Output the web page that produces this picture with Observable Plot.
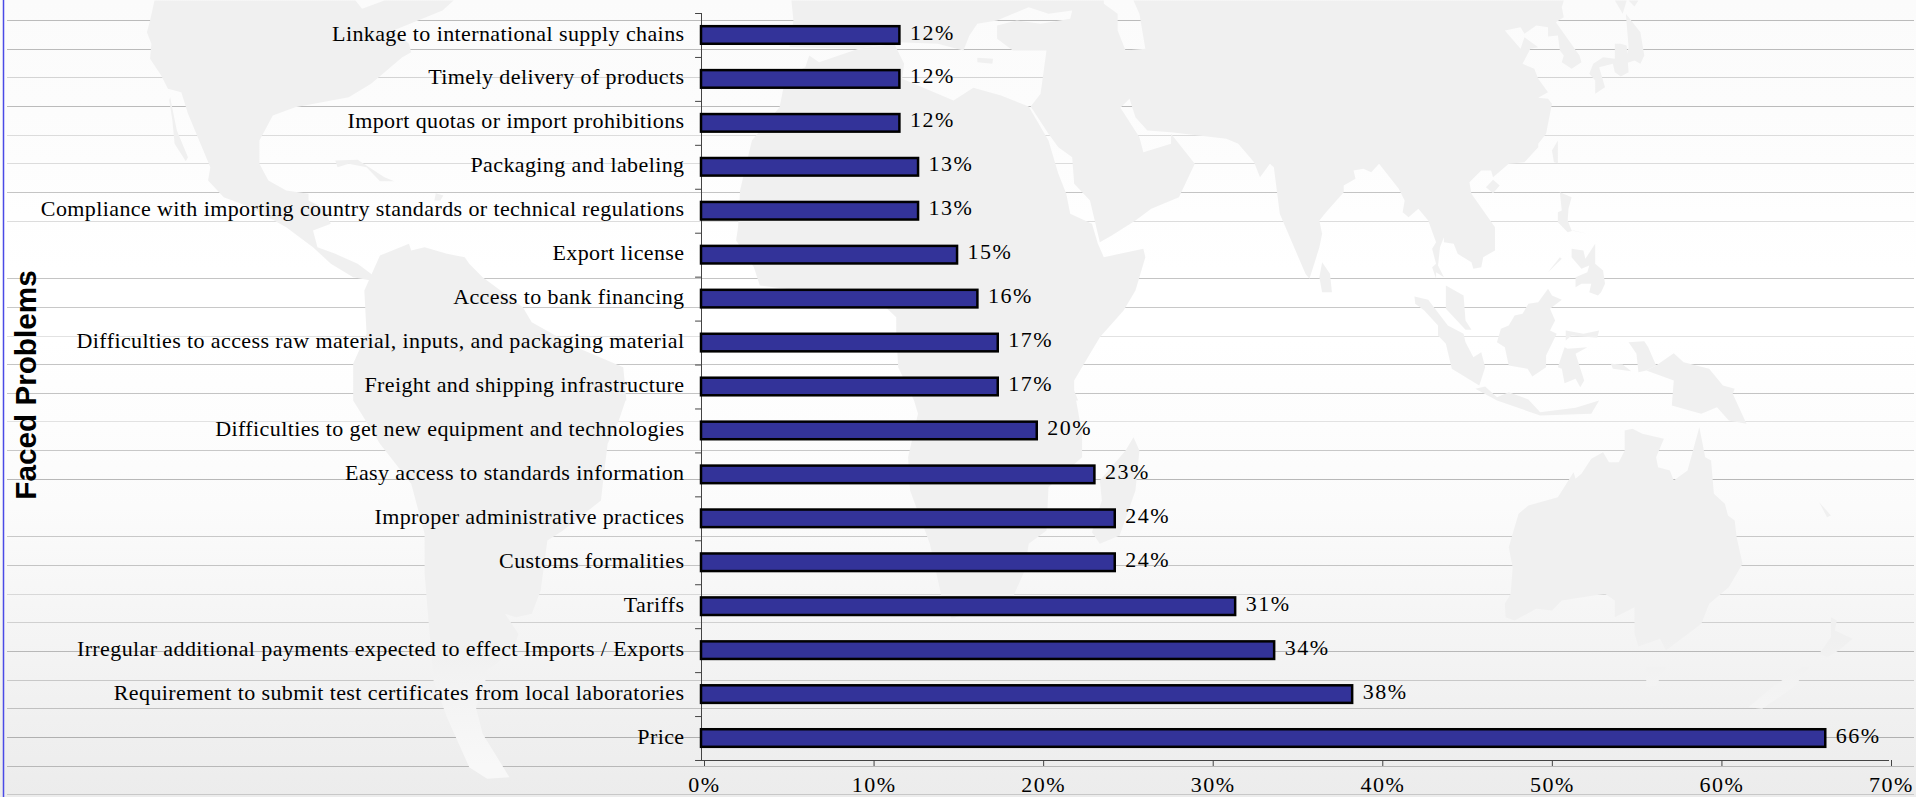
<!DOCTYPE html>
<html>
<head>
<meta charset="utf-8">
<script src="https://cdn.jsdelivr.net/npm/d3@7"></script>
<script src="https://cdn.jsdelivr.net/npm/@observablehq/plot@0.6"></script>
<style>
  html, body { margin: 0; padding: 0; background: #fff; overflow: hidden; }
  #stage { position: relative; width: 1916px; height: 797px; overflow: hidden;
    background: linear-gradient(#fbfbfb 0px, #fcfcfc 110px, #ffffff 270px, #ffffff 340px, #fbfbfb 507px, #ececec 797px); }
  #stage svg { position: absolute; left: 0; top: 0; background: transparent; max-width: none; }
  #stage g[aria-label="y-axis tick label"] text { letter-spacing: 0.4px; }
  #stage g[aria-label="x-axis tick label"] text { letter-spacing: 1.5px; }
  #stage g[aria-label="text"]:not([font-weight]) text { letter-spacing: 1.5px; }
</style>
</head>
<body>
<div id="stage"></div>
<script>
// ---- chart data (top to bottom) ----
const problems = [
  "Linkage to international supply chains",
  "Timely delivery of products",
  "Import quotas or import prohibitions",
  "Packaging and labeling",
  "Compliance with importing country standards or technical regulations",
  "Export license",
  "Access to bank financing",
  "Difficulties to access raw material, inputs, and packaging material",
  "Freight and shipping infrastructure",
  "Difficulties to get new equipment and technologies",
  "Easy access to standards information",
  "Improper administrative practices",
  "Customs formalities",
  "Tariffs",
  "Irregular additional payments expected to effect Imports / Exports",
  "Requirement to submit test certificates from local laboratories",
  "Price"
];
const shares = [11.7, 11.7, 11.7, 12.8, 12.8, 15.1, 16.3, 17.5, 17.5, 19.8, 23.2, 24.4, 24.4, 31.5, 33.8, 38.4, 66.3];
const shareLabels = ["12%","12%","12%","13%","13%","15%","16%","17%","17%","20%","23%","24%","24%","31%","34%","38%","66%"];
const xTicks = [0, 10, 20, 30, 40, 50, 60, 70];
const axisTitle = "Faced Problems";

// ---- backdrop: ruled lines and a traced world silhouette ----
const ruleRows = [20,49,77,106,135,163,192,221,278,307,336,364,393,421,450,479,536,565,594,622,651,680,708,737,766,794];
const ruleShades = ["#bbb","#bbb","#d4d4d4","#bbb","#dcdcdc","#dcdcdc","#c4c4c4","#dcdcdc","#c4c4c4","#c8c8c8","#e2e2e2","#c4c4c4","#c4c4c4","#e2e2e2","#c8c8c8","#b8b8b8","#c8c8c8","#c4c4c4","#d8d8d8","#d0d0d0","#b8b8b8","#c8c8c8","#c0c0c0","#b0b0b0","#b8b8b8","#c8c8c8"];

const northAmerica = [345,0,335,60,328,95,338,130,335,175,360,225,375,265,405,275,420,340,445,420,470,500,465,540,500,590,560,620,640,680,700,740,740,790,790,830,830,840,835,825,800,790,750,760,710,740,700,690,740,670,720,620,690,600,690,580,640,570,600,540,580,490,580,420,610,345,660,320,780,290,830,250,900,170,920,155,915,130,880,90,990,30,1015,0,860,0,810,25,795,0];
const baja = [380,290,395,390,420,470,415,482,390,430,385,360,378,300];
const cuba = [750,480,800,478,860,530,882,542,850,542,820,500,780,490,755,500];
const hispaniola = [975,578,992,585,985,600,972,600];
const southAmericaNorth = [850,765,915,730,920,750,950,740,1000,760,1040,770,1050,790,1080,830,1170,920,1190,965,1290,1040,1395,1100,1402,1200];
const southAmericaSouth = [1400,0,1385,60,1360,130,1350,240,1345,300,1260,390,1225,420,1210,570,1190,640,1155,650,1130,640,1160,700,1150,750,1090,810,1085,850,1065,920,1080,1000,1140,1130,1090,1135,1050,1100,1020,1010,1000,950,970,840,960,680,950,520,950,400,920,250,850,130,790,0];
const southAmericaWest = [790,1200,790,1090,820,1000,815,870];
const africaNorth = [275,165,300,185,400,145,490,130,515,190,510,235,640,300,690,262,760,285,830,318,880,420,905,520,925,580,935,640,990,670,1005,730,1020,770,1120,745,1125,770,1100,870,1070,930,1010,1010,970,1090,945,1140,945,1170,955,1200];
const africaSouth = [950,0,965,100,965,170,880,260,875,390,830,430,820,510,790,590,635,655,610,590,580,430,530,270,525,170,550,40,540,0];
const africaWest = [540,1200,500,1100,495,1000,495,950,450,900,150,855,135,800,90,720,95,680,100,570,130,420,200,320,215,230,265,200];
const madagascar = [1095,110,1110,150,1100,270,1060,405,1010,430,990,395,1015,300,1010,240,1075,150];
const eurasiaWest = [230,0,235,60,225,140,400,145,500,125,600,130,665,150,680,105,700,70,750,60,790,40,830,20,880,40,940,30,935,55,860,70,800,60,750,75,750,115,790,150,875,150,860,280,835,318,880,400,905,440,940,470,945,550,985,600,1010,725,1040,705,1100,660,1140,625,1210,590,1250,490,1210,430,1190,400,1190,430,1120,455,1110,410,1062,322,1085,295,1100,350,1130,390,1190,395,1330,415,1360,430,1400,485,1415,530,1440,490,1450,500,1465,640,1530,820,1540,835];
const eurasiaEast = [35,790,48,740,55,700,48,660,65,635,110,575,110,555,140,535,135,510,160,505,180,515,200,490,250,565,265,600,260,635,275,650,300,625,325,660,345,725,335,745,345,790,335,800,345,835,345,815,365,830,350,795,355,740,365,710,365,725,390,730,400,760,435,785,440,805,460,800,465,770,495,750,495,680,435,580,430,545,460,510,485,510,490,530,530,490,570,485,605,440,605,430,625,400,640,310,630,295,605,292,630,275,605,235,595,205,565,190,585,145,605,140,570,110,560,145,520,90,560,80,570,100,600,75,630,80,630,108,655,105,660,150,670,165,665,185,690,205,715,185,710,165,650,65,670,50,665,20,670,0];
const caspianEdge = [1095,0,1110,40,1125,145,1075,150,1055,90,1055,40,1020,10,1020,0];
const crete = [700,172,740,175,738,190,700,185];
const sriLanka = [55,785,75,820,80,875,55,875,48,830];
const hainan = [490,538,507,555,490,578,472,560];
const taiwan = [655,420,655,488,645,485,640,450];
const honshu = [800,130,815,130,830,135,835,215,815,228,800,215,795,190,760,200,775,260,750,280,750,240,735,220,745,190,770,170,800,175];
const hokkaido = [828,40,865,95,875,165,865,190,850,180,825,190,835,140];
const kurilA = [800,0,820,40,830,0];
const kurilB = [835,0,850,18,860,0];
const luzon = [660,575,690,590,682,625,680,660,690,690,730,700,695,690,680,695,655,665,655,635,665,630];
const mindanao = [690,745,720,750,725,775,750,730,750,790,770,810,775,850,765,875,757,885,735,875,740,850,715,850,700,860,700,830,730,815,735,795,715,805,690,770];
const palawan = [660,770,665,775,630,815];
const sumatra = [290,888,325,898,375,975,415,1000,420,1025,440,1070,460,1055,470,1100,455,1155,385,1105,370,1030,350,1005,350,975,315,930,292,910];
const malaya = [370,855,415,885,420,960,435,988,420,988,370,925];
const borneo = [630,865,640,885,665,898,635,925,648,960,635,990,652,1000,625,1065,625,1100,590,1128,578,1105,530,1095,520,1040,500,1025,510,985,530,975,545,945,565,940,580,910,605,905];
const celebesA = [675,990,720,1000,760,990,755,1012,690,1005,675,1020];
const celebesB = [680,1045,730,1040,700,1060,722,1140,712,1160,700,1135,672,1148,665,1105,655,1100,672,1040];
const moluccas = [790,1090,820,1092,842,1112,795,1105];
const java = [445,1165,470,1158,500,1190,530,1175,580,1197,610,1235,700,1222,760,1200,740,1240,610,1245,500,1200];
const guineaEast = [950,1058,975,1085,1040,1105,1075,1155,1105,1165,1100,1180,1135,1270,1090,1260,1060,1220,1020,1240,990,1230,945,1215,950,1140,880,1110,905,1095];
const guineaWest = [835,1025,875,1022,885,1040,905,1095,880,1110,860,1115,855,1060];
const australia = [825,90,845,85,870,100,925,115,905,170,910,200,940,210,950,240,985,210,1015,80,1030,170,1045,180,1052,280,1080,310,1088,345,1105,360,1110,410,1125,490,1090,560,1040,610,1020,670,930,750,915,715,860,738,850,700,850,620,800,650,800,600,775,580,665,600,640,630,600,625,545,660,522,650,520,610,535,580,540,500,530,440,540,400,555,340,580,315,655,290,695,215,700,235,715,220,740,175,770,155,785,185,810,185,825,150];
const tasmania = [880,800,930,800,905,855,880,860];
const newZealandNorth = [1350,650,1365,660,1360,690,1405,715,1370,750,1340,770,1320,760,1350,710];
const newZealandSouth = [1275,800,1295,800,1255,860,1175,925,1140,920,1200,860];
const newCaledonia = [1320,305,1350,345,1340,350];

const crops = {
  nw: {x0: 0, y0: 0, k: 2.24}, sw: {x0: 0, y0: 400, k: 2.24},
  nc: {x0: 700, y0: 0, k: 2.529}, sc: {x0: 700, y0: 400, k: 2.529},
  ne: {x0: 1300, y0: 0, k: 2.545}, se: {x0: 1300, y0: 400, k: 2.545}
};
const place = (crop, flat) => {
  const c = crops[crop], out = [];
  for (let i = 0; i < flat.length; i += 2) out.push([c.x0 + flat[i] / c.k, c.y0 + flat[i + 1] / 3]);
  return out;
};
const landParts = [
  [["nw", northAmerica]], [["nw", baja]], [["nw", cuba]], [["nw", hispaniola]],
  [["nw", southAmericaNorth], ["sw", southAmericaSouth], ["nw", southAmericaWest]],
  [["nc", africaNorth], ["sc", africaSouth], ["nc", africaWest]], [["sc", madagascar]],
  [["nc", eurasiaWest], ["ne", eurasiaEast], ["nc", caspianEdge]], [["nc", crete]],
  ...[sriLanka, hainan, taiwan, honshu, hokkaido, kurilA, kurilB, luzon, mindanao, palawan, sumatra, malaya,
      borneo, celebesA, celebesB, moluccas, java, guineaEast, guineaWest].map(p => [["ne", p]]),
  ...[australia, tasmania, newZealandNorth, newZealandSouth, newCaledonia].map(p => [["se", p]])
];
const land = landParts.flatMap((segments, part) =>
  segments.flatMap(([crop, flat]) => place(crop, flat)).map(([mx, my]) => ({part, mx, my})));

const landShade = () => {
  const g = d3.create("svg:defs").append("linearGradient")
    .attr("id", "landShade").attr("gradientUnits", "userSpaceOnUse")
    .attr("x1", 0).attr("x2", 0).attr("y1", 0).attr("y2", 797);
  g.append("stop").attr("offset", "0").attr("stop-color", "#f0f0f0");
  g.append("stop").attr("offset", "0.8").attr("stop-color", "#f0f0f0");
  g.append("stop").attr("offset", "0.96").attr("stop-color", "#f8f8f8");
  return g.node().parentNode;
};

const backdrop = Plot.plot({
  width: 1916, height: 797, margin: 0,
  style: {background: "transparent"},
  x: {domain: [0, 1916], range: [0, 1916], axis: null},
  y: {domain: [0, 797], range: [0, 797], axis: null},
  marks: [
    landShade,
    Plot.ruleY(ruleRows.map((row, i) => ({row, shade: ruleShades[i]})), {y: "row", x1: 7, x2: 1914, stroke: "shade", strokeWidth: 1}),
    Plot.line(land, {x: "mx", y: "my", z: "part", fill: "url(#landShade)", stroke: "none", curve: "linear-closed"}),
    Plot.ruleX([3], {y1: 0, y2: 797, stroke: "#4a4ae6", strokeWidth: 1.5})
  ]
});

// ---- the bar chart ----
const rows = problems.map((problem, i) => ({problem, share: shares[i], label: shareLabels[i]}));
const serif = "'Liberation Serif', 'Times New Roman', serif";

const chart = Plot.plot({
  width: 1916, height: 797,
  marginLeft: 701, marginRight: 28, marginTop: 13, marginBottom: 37,
  style: {background: "transparent", fontFamily: serif, color: "#000"},
  x: {domain: [0, 70], label: null},
  y: {domain: problems, paddingInner: 0.6, paddingOuter: 0.3, round: false, label: null},
  marks: [
    Plot.frame({anchor: "left", stroke: "#444", strokeOpacity: 1}),
    Plot.frame({anchor: "bottom", stroke: "#444", strokeOpacity: 1}),
    Plot.barX(rows, {y: "problem", x1: 0, x2: "share", fill: "#333399", stroke: "#000", strokeWidth: 2.5}),
    Plot.ruleY(problems, {y: d => d, x1: -0.35, x2: 0, dy: 21.97, stroke: "#444"}),
    Plot.ruleY(problems.slice(0, 1), {y: d => d, x1: -0.35, x2: 0, dy: -21.97, stroke: "#444"}),
    Plot.axisY({anchor: "left", tickSize: 0, tickPadding: 17, fontSize: 22, label: null, fill: "#000", dy: -2, lineWidth: Infinity, textOverflow: null}),
    Plot.axisX({anchor: "bottom", ticks: xTicks, tickFormat: d => d + "%", tickSize: 6, tickPadding: 10, fontSize: 22, label: null, stroke: "#444", fill: "#000", dx: 3}),
    Plot.text(rows, {y: "problem", x: "share", text: "label", dx: 10, dy: -3, textAnchor: "start", fontSize: 22, fill: "#000"}),
    Plot.text([axisTitle], {frameAnchor: "left", textAnchor: "middle", dx: -675, dy: -2, rotate: -90, fontSize: 29.7, fontWeight: "bold", fontFamily: "'Liberation Sans', Arial, sans-serif", fill: "#000"})
  ]
});

const stage = document.getElementById("stage");
stage.append(backdrop, chart);
</script>
</body>
</html>
